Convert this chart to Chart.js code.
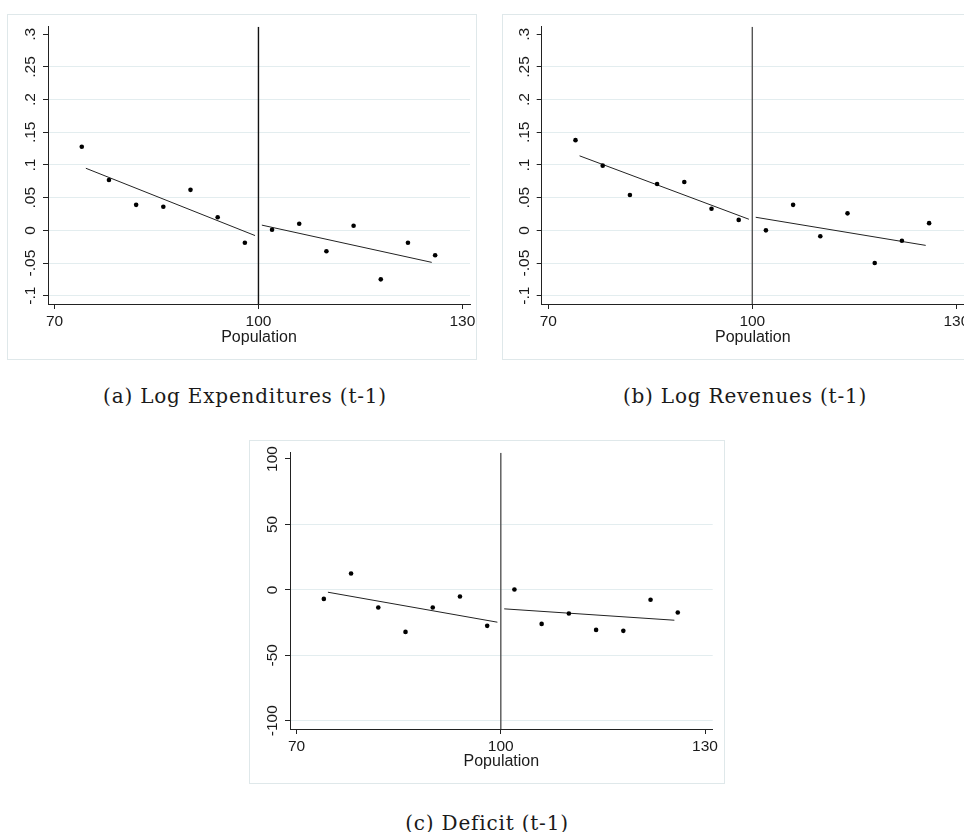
<!DOCTYPE html>
<html>
<head>
<meta charset="utf-8">
<script src="https://cdn.jsdelivr.net/npm/chart.js@4.4.0/dist/chart.umd.min.js"></script>
<style>
  html, body { margin: 0; padding: 0; background: #fff; overflow: hidden; }
  body { width: 964px; height: 832px; position: relative; }
  .frame { position: absolute; border: 1px solid #dfe8ea; box-sizing: border-box; background: #fff; }
  .frame canvas { position: absolute; left: 0; top: 0; }
  .caption { position: absolute; width: 400px; line-height: 24px; text-align: center; white-space: nowrap;
             font-family: "DejaVu Serif", "Liberation Serif", serif; font-size: 20px; letter-spacing: 0.8px; color: #1a1a1a; }
</style>
</head>
<body>
<div class="frame" style="left:7px;top:14px;width:470px;height:346px"><canvas id="chart-exp" width="468" height="344"></canvas></div>
<div class="frame" style="left:502px;top:14px;width:470px;height:346px"><canvas id="chart-rev" width="468" height="344"></canvas></div>
<div class="frame" style="left:249px;top:440px;width:476px;height:344px"><canvas id="chart-def" width="474" height="342"></canvas></div>
<div class="caption" style="left:45px;top:384px">(a) Log Expenditures (t-1)</div>
<div class="caption" style="left:545px;top:384px">(b) Log Revenues (t-1)</div>
<div class="caption" style="left:287px;top:811px">(c) Deficit (t-1)</div>

<script>
// bin centres (population)
const bins = [74, 78, 82, 86, 90, 94, 98, 102, 106, 110, 114, 118, 122, 126];
const cutoff = 100;

// bin means
const expMeans = [0.128, 0.077, 0.039, 0.036, 0.062, 0.020, -0.019, 0.001, 0.010, -0.032, 0.007, -0.075, -0.019, -0.038];
const revMeans = [0.138, 0.099, 0.054, 0.071, 0.074, 0.033, 0.016, 0.000, 0.039, -0.009, 0.026, -0.050, -0.016, 0.011];
const defMeans = [-6.9, 12.5, -13.5, -32.1, -13.5, -5.1, -27.5, 0.3, -26.0, -18.1, -30.6, -31.3, -7.6, -17.3];

// fitted lines: left start, left end, right start, right end
const fitX = [74.6, 99.5, 100.5, 125.5];
const expFit = [0.095, -0.008, 0.008, -0.049];
const revFit = [0.114, 0.017, 0.020, -0.023];
const defFit = [-1.8, -24.7, -14.5, -23.2];

// axes
const xTicks = [70, 100, 130];
const xRange = [69.03, 131.13];
const shareTicks = [-0.1, -0.05, 0, 0.05, 0.1, 0.15, 0.2, 0.25, 0.3];
const shareRange = [-0.1127, 0.3116];
const deficitTicks = [-100, -50, 0, 50, 100];
const deficitRange = [-106.3, 104.8];

const FONT = '"Liberation Sans", Arial, sans-serif';
const INK = '#1a1a1a';

// Stata style labels: .25, -.05, 0
function stataLabel(v) {
    const s = String(Math.round(v * 1000) / 1000);
    return s.replace(/^(-?)0\./, '$1.');
}

// y tick labels are drawn rotated, reading upwards
const yLabelPlugin = {
    id: 'yLabels',
    afterDraw(chart) {
        const scale = chart.scales.y;
        const ctx = chart.ctx;
        ctx.save();
        ctx.font = '15.5px ' + FONT;
        ctx.fillStyle = INK;
        ctx.textAlign = 'center';
        ctx.textBaseline = 'middle';
        scale.ticks.forEach(t => {
            const y = scale.getPixelForValue(t.value);
            ctx.save();
            ctx.translate(chart.chartArea.left - 17, y);
            ctx.rotate(-Math.PI / 2);
            ctx.fillText(stataLabel(t.value), 0, 0);
            ctx.restore();
        });
        ctx.restore();
    }
};

function makePanel(id, p) {
    const top = p.yTicks[p.yTicks.length - 1];
    const seg = (a, b) => [{ x: fitX[a], y: p.fit[a] }, { x: fitX[b], y: p.fit[b] }];
    const lineStyle = { type: 'line', borderColor: '#222', borderWidth: 1, pointRadius: 0, fill: false };

    return new Chart(document.getElementById(id), {
        type: 'scatter',
        data: {
            datasets: [
                {
                    data: bins.map((x, i) => ({ x: x, y: p.means[i] })),
                    pointRadius: 2.3,
                    pointBackgroundColor: '#000',
                    pointBorderWidth: 0
                },
                { ...lineStyle, data: seg(0, 1) },
                { ...lineStyle, data: seg(2, 3) },
                {
                    type: 'line',
                    data: [{ x: cutoff, y: p.yRange[0] }, { x: cutoff, y: p.yRange[1] }],
                    borderColor: p.vline,
                    borderWidth: 1.4,
                    pointRadius: 0
                }
            ]
        },
        options: {
            responsive: false,
            animation: false,
            layout: { padding: { top: p.padTop, right: p.padRight, bottom: 0, left: 0 } },
            plugins: { legend: { display: false }, tooltip: { enabled: false } },
            scales: {
                x: {
                    type: 'linear',
                    min: xRange[0],
                    max: xRange[1],
                    afterBuildTicks: s => { s.ticks = xTicks.map(v => ({ value: v })); },
                    afterFit: s => { s.height = p.xAxisH; s.paddingLeft = 0; s.paddingRight = 0; },
                    grid: { drawOnChartArea: false, tickLength: 5, tickColor: '#222' },
                    border: { color: '#222', width: 1 },
                    ticks: { padding: 3, color: INK, maxRotation: 0, font: { family: FONT, size: 15.5 } },
                    title: {
                        display: true,
                        text: 'Population',
                        color: INK,
                        font: { family: FONT, size: 16 },
                        padding: { top: 0, bottom: 12 }
                    }
                },
                y: {
                    type: 'linear',
                    min: p.yRange[0],
                    max: p.yRange[1],
                    afterBuildTicks: s => { s.ticks = p.yTicks.map(v => ({ value: v })); },
                    afterFit: s => { s.width = p.yAxisW; },
                    ticks: { display: false },
                    grid: {
                        color: ctx => (ctx.tick && ctx.tick.value === top) ? 'rgba(0,0,0,0)' : '#e3edef',
                        tickLength: 5,
                        tickColor: '#222'
                    },
                    border: { color: '#222', width: 1 }
                }
            }
        },
        plugins: [yLabelPlugin]
    });
}

makePanel('chart-exp', {
    means: expMeans, fit: expFit, yTicks: shareTicks, yRange: shareRange,
    yAxisW: 40, padTop: 11.7, padRight: 6, xAxisH: 55, vline: '#111'
});
makePanel('chart-rev', {
    means: revMeans, fit: revFit, yTicks: shareTicks, yRange: shareRange,
    yAxisW: 38.7, padTop: 11.7, padRight: 7, xAxisH: 55, vline: '#555'
});
makePanel('chart-def', {
    means: defMeans, fit: defFit, yTicks: deficitTicks, yRange: deficitRange,
    yAxisW: 40, padTop: 11.7, padRight: 11.3, xAxisH: 54, vline: '#555'
});
</script>
</body>
</html>
